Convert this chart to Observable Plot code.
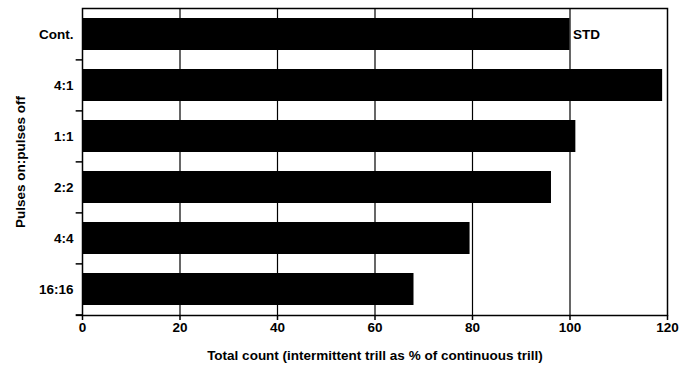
<!DOCTYPE html>
<html>
<head>
<meta charset="utf-8">
<script src="https://cdn.jsdelivr.net/npm/d3@7"></script>
<script src="https://cdn.jsdelivr.net/npm/@observablehq/plot@0.6"></script>
<style>
  html, body { margin: 0; padding: 0; background: #fff; }
  #chart svg { display: block; }
</style>
</head>
<body>
<div id="chart"></div>
<script>
const categories = ["Cont.", "4:1", "1:1", "2:2", "4:4", "16:16"];
const values = [100, 119, 101.2, 96.2, 79.5, 68];
const xTicks = [0, 20, 40, 60, 80, 100, 120];
const gridTicks = [20, 40, 60, 80, 100];
const annotationCategory = ["Cont."];
const annotationText = ["STD"];

const data = categories.map((c, i) => ({cat: c, value: values[i]}));
const annotations = annotationCategory.map((c, i) => ({cat: c, value: values[categories.indexOf(c)], label: annotationText[i]}));
const boundaries = categories.slice(1);
const lastCategory = [categories[categories.length - 1]];

const font = "'Liberation Sans', Arial, Helvetica, sans-serif";
const paddingInner = 0.37, paddingOuter = 0.18;
const plotH = 369 - 8 - 54;
const step = plotH / (categories.length - paddingInner + 2 * paddingOuter);

const chart = Plot.plot({
  width: 680,
  height: 369,
  marginLeft: 82,
  marginRight: 13,
  marginTop: 8,
  marginBottom: 54,
  style: {fontFamily: font, fontSize: "13.5px", fontWeight: "bold", color: "#000", background: "#fff"},
  x: {domain: [0, 120]},
  y: {domain: categories, paddingInner, paddingOuter},
  marks: [
    Plot.ruleX(gridTicks, {stroke: "#000", strokeWidth: 1.2}),
    Plot.barX(data, {y: "cat", x: "value", fill: "#000"}),
    Plot.text(annotations, {y: "cat", x: "value", text: "label", textAnchor: "start", dx: 3, fill: "#000", fontSize: 13.5}),
    Plot.ruleY(boundaries, {y: d => d, dy: -step / 2, x1: -1.3, x2: 0, stroke: "#000", strokeWidth: 1.5, clip: false}),
    Plot.ruleY(lastCategory, {y: d => d, dy: step / 2, x1: -1.3, x2: 0, stroke: "#000", strokeWidth: 2, clip: false}),
    Plot.frame({stroke: "#000", strokeWidth: 1.5}),
    Plot.axisX({
      ticks: xTicks, tickSize: 5, tickPadding: 2, stroke: "#000", strokeWidth: 1.5,
      label: "Total count (intermittent trill as % of continuous trill)",
      labelAnchor: "center", labelArrow: "none", labelOffset: 44
    }),
    Plot.axisY({
      tickSize: 0, tickPadding: 9,
      label: "Pulses on:pulses off",
      labelAnchor: "center", labelArrow: "none", labelOffset: 67
    })
  ]
});

document.getElementById("chart").appendChild(chart);
</script>
</body>
</html>
